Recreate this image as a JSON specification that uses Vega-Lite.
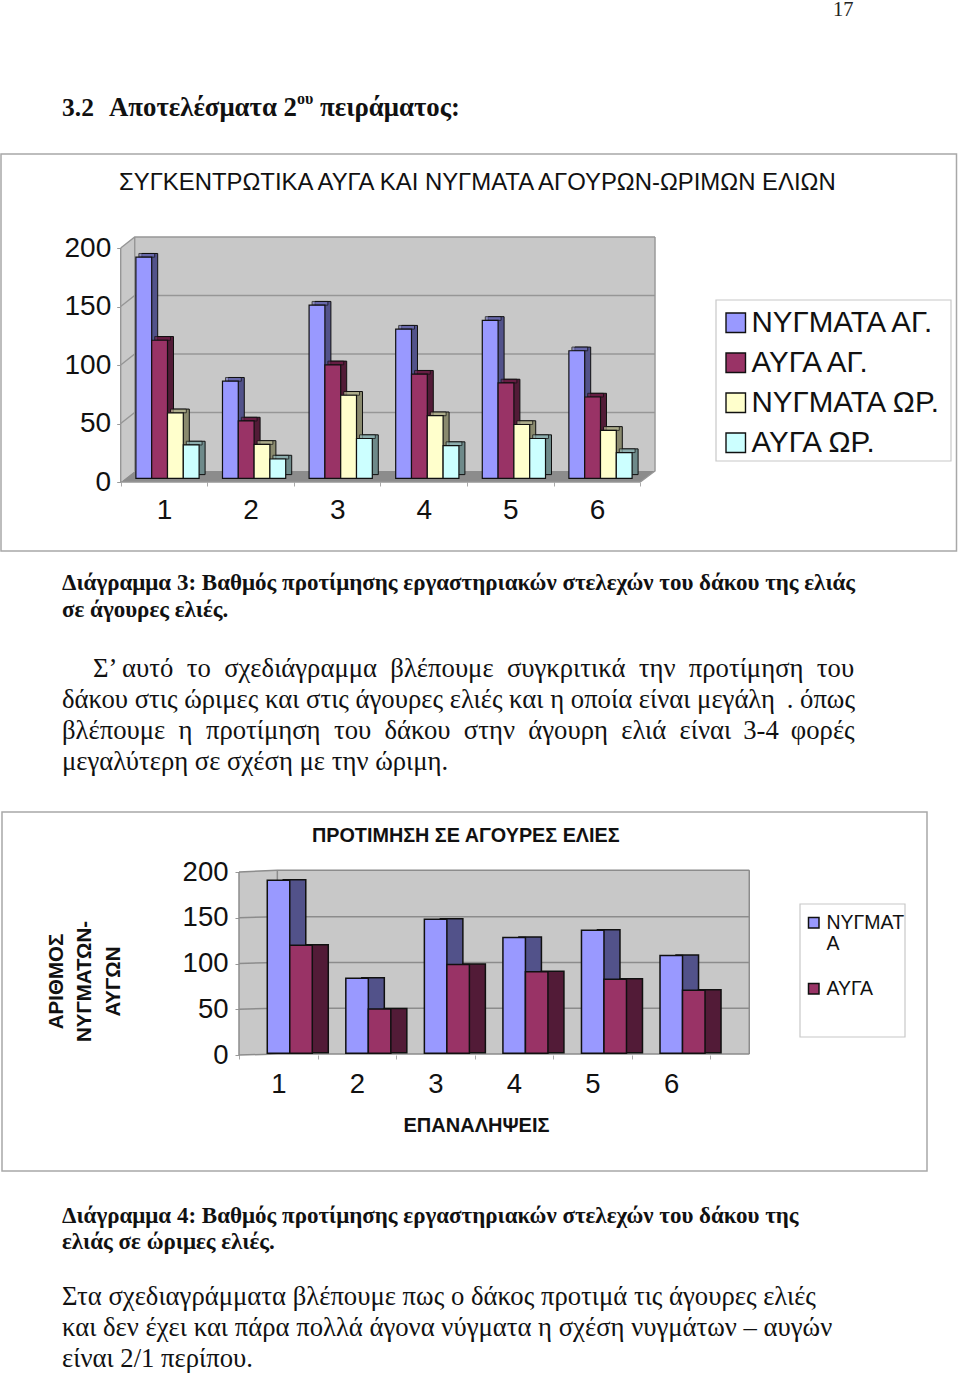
{
"$schema":"https://vega.github.io/schema/vega-lite/v6.json",
"padding":0,"background":"white","spacing":0,"bounds":"flush",
"config":{"view":{"stroke":null}},
"datasets":{
"c1":[
{"group":"1","series":"ΝΥΓΜΑΤΑ ΑΓ.","value":189},{"group":"1","series":"ΑΥΓΑ ΑΓ.","value":118},{"group":"1","series":"ΝΥΓΜΑΤΑ ΩΡ.","value":56},{"group":"1","series":"ΑΥΓΑ ΩΡ.","value":28.5},
{"group":"2","series":"ΝΥΓΜΑΤΑ ΑΓ.","value":83},{"group":"2","series":"ΑΥΓΑ ΑΓ.","value":49},{"group":"2","series":"ΝΥΓΜΑΤΑ ΩΡ.","value":29},{"group":"2","series":"ΑΥΓΑ ΩΡ.","value":16.5},
{"group":"3","series":"ΝΥΓΜΑΤΑ ΑΓ.","value":148},{"group":"3","series":"ΑΥΓΑ ΑΓ.","value":97},{"group":"3","series":"ΝΥΓΜΑΤΑ ΩΡ.","value":71},{"group":"3","series":"ΑΥΓΑ ΩΡ.","value":34},
{"group":"4","series":"ΝΥΓΜΑΤΑ ΑΓ.","value":127.5},{"group":"4","series":"ΑΥΓΑ ΑΓ.","value":89},{"group":"4","series":"ΝΥΓΜΑΤΑ ΩΡ.","value":53.5},{"group":"4","series":"ΑΥΓΑ ΩΡ.","value":28},
{"group":"5","series":"ΝΥΓΜΑΤΑ ΑΓ.","value":135},{"group":"5","series":"ΑΥΓΑ ΑΓ.","value":81.5},{"group":"5","series":"ΝΥΓΜΑΤΑ ΩΡ.","value":46},{"group":"5","series":"ΑΥΓΑ ΩΡ.","value":34},
{"group":"6","series":"ΝΥΓΜΑΤΑ ΑΓ.","value":109},{"group":"6","series":"ΑΥΓΑ ΑΓ.","value":69.5},{"group":"6","series":"ΝΥΓΜΑΤΑ ΩΡ.","value":41},{"group":"6","series":"ΑΥΓΑ ΩΡ.","value":22}],
"c2":[
{"group":"1","series":"ΝΥΓΜΑΤΑ","value":189},{"group":"1","series":"ΑΥΓΑ","value":118},
{"group":"2","series":"ΝΥΓΜΑΤΑ","value":82},{"group":"2","series":"ΑΥΓΑ","value":48.5},
{"group":"3","series":"ΝΥΓΜΑΤΑ","value":146.5},{"group":"3","series":"ΑΥΓΑ","value":97},
{"group":"4","series":"ΝΥΓΜΑΤΑ","value":126.5},{"group":"4","series":"ΑΥΓΑ","value":89},
{"group":"5","series":"ΝΥΓΜΑΤΑ","value":134.5},{"group":"5","series":"ΑΥΓΑ","value":81},
{"group":"6","series":"ΝΥΓΜΑΤΑ","value":107},{"group":"6","series":"ΑΥΓΑ","value":69}]
},
"vconcat":[
{"width":960,"height":153,
"layer":[
{"data":{"values":[{"t":"17"}]},"mark":{"type":"text","font":"Liberation Serif","fontSize":20.5,"align":"left","baseline":"top","color":"#222"},
 "encoding":{"text":{"field":"t"},"x":{"datum":833,"scale":{"domain":[0,960],"range":[0,960]},"axis":null},"y":{"datum":0,"scale":{"domain":[0,153],"range":[0,153]},"axis":null}}},
{"data":{"values":[{"t":"3.2"}]},"mark":{"type":"text","font":"Liberation Serif","fontWeight":"bold","fontSize":25.5,"align":"left","baseline":"alphabetic","color":"#111"},
 "encoding":{"text":{"field":"t"},"x":{"datum":62,"scale":{"domain":[0,960],"range":[0,960]},"axis":null},"y":{"datum":116,"scale":{"domain":[0,153],"range":[0,153]},"axis":null}}},
{"data":{"values":[{"t":"Αποτελέσματα 2"}]},"mark":{"type":"text","font":"Liberation Serif","fontWeight":"bold","fontSize":26.8,"align":"left","baseline":"alphabetic","color":"#111"},
 "encoding":{"text":{"field":"t"},"x":{"datum":109,"scale":{"domain":[0,960],"range":[0,960]},"axis":null},"y":{"datum":116,"scale":{"domain":[0,153],"range":[0,153]},"axis":null}}},
{"data":{"values":[{"t":"ου"}]},"mark":{"type":"text","font":"Liberation Serif","fontWeight":"bold","fontSize":16,"align":"left","baseline":"alphabetic","color":"#111"},
 "encoding":{"text":{"field":"t"},"x":{"datum":297,"scale":{"domain":[0,960],"range":[0,960]},"axis":null},"y":{"datum":104,"scale":{"domain":[0,153],"range":[0,153]},"axis":null}}},
{"data":{"values":[{"t":"πειράματος:"}]},"mark":{"type":"text","font":"Liberation Serif","fontWeight":"bold","fontSize":26.8,"align":"left","baseline":"alphabetic","color":"#111"},
 "encoding":{"text":{"field":"t"},"x":{"datum":320,"scale":{"domain":[0,960],"range":[0,960]},"axis":null},"y":{"datum":116,"scale":{"domain":[0,153],"range":[0,153]},"axis":null}}}
],
"resolve":{"scale":{"x":"independent","y":"independent"}}},

{"width":960,"height":398,
"layer":[
{"data":{"values":[{"lo":0,"hi":200,"u":0},{"lo":9.4,"hi":209.4,"u":0.162},{"lo":9.4,"hi":209.4,"u":6.17}]},
 "mark":{"type":"area","color":"#c8c8c8","orient":"vertical"},
 "encoding":{"x":{"field":"u","type":"quantitative","scale":{"domain":[0,6],"range":[120.7,640.3],"nice":false,"zero":false},"axis":null},
 "y":{"field":"lo","type":"quantitative","scale":{"domain":[0,200],"range":[329,95],"nice":false},
   "axis":{"title":null,"values":[0,50,100,150,200],"offset":-120.7,"domain":false,"grid":false,"tickSize":4,"tickColor":"#999","labelPadding":6,"labelFont":"Liberation Sans","labelFontSize":28,"labelColor":"#111"}},
 "y2":{"field":"hi"}}},
{"data":{"values":[{"lv":0,"l":0,"r":6},{"lv":9.4,"l":0.162,"r":6.17}]},
 "mark":{"type":"area","color":"#8c8c8c","orient":"horizontal"},
 "encoding":{"y":{"field":"lv","type":"quantitative","scale":{"domain":[0,200],"range":[329,95],"nice":false},"axis":null},
 "x":{"field":"l","type":"quantitative","scale":{"domain":[0,6],"range":[120.7,640.3],"nice":false,"zero":false},"axis":null},"x2":{"field":"r"}}},
{"data":{"values":[
 {"k":"g50","u":0,"v":50},{"k":"g50","u":0.162,"v":59.4},{"k":"g50","u":6.17,"v":59.4},
 {"k":"g100","u":0,"v":100},{"k":"g100","u":0.162,"v":109.4},{"k":"g100","u":6.17,"v":109.4},
 {"k":"g150","u":0,"v":150},{"k":"g150","u":0.162,"v":159.4},{"k":"g150","u":6.17,"v":159.4},
 {"k":"g200","u":0,"v":200},{"k":"g200","u":0.162,"v":209.4},{"k":"g200","u":6.17,"v":209.4},
 {"k":"left","u":0,"v":0},{"k":"left","u":0,"v":200},
 {"k":"back","u":0.162,"v":9.4},{"k":"back","u":0.162,"v":209.4},
 {"k":"right","u":6,"v":0},{"k":"right","u":6.17,"v":9.4},{"k":"right","u":6.17,"v":209.4},
 {"k":"front","u":0,"v":0},{"k":"front","u":6,"v":0}]},
 "mark":{"type":"line","color":"#969696","strokeWidth":1.4},
 "encoding":{"detail":{"field":"k"},
 "x":{"field":"u","type":"quantitative","scale":{"domain":[0,6],"range":[120.7,640.3],"nice":false,"zero":false},"axis":null},
 "y":{"field":"v","type":"quantitative","scale":{"domain":[0,200],"range":[329,95],"nice":false},"axis":null}}},
{"data":{"values":[{"group":"1"},{"group":"2"},{"group":"3"},{"group":"4"},{"group":"5"},{"group":"6"}]},
 "mark":{"type":"rule","opacity":0},
 "encoding":{"x":{"field":"group","type":"nominal","scale":{"domain":["1","2","3","4","5","6"],"range":[120.7,640.3]},
   "axis":{"title":null,"labelAngle":0,"offset":-69,"domain":false,"grid":false,"tickSize":4,"tickColor":"#aaa","tickBand":"extent","labelPadding":10,"labelFont":"Liberation Sans","labelFontSize":28,"labelColor":"#111"}}}},
{"data":{"name":"c1"},"mark":{"type":"bar","stroke":"#101010","strokeWidth":1},
 "encoding":{"x":{"field":"group","type":"nominal","scale":{"domain":["1","2","3","4","5","6"],"range":[130.2,649.8],"paddingInner":0.27,"paddingOuter":0.135},"axis":null},
 "xOffset":{"field":"series","type":"nominal","scale":{"domain":["ΝΥΓΜΑΤΑ ΑΓ.","ΑΥΓΑ ΑΓ.","ΝΥΓΜΑΤΑ ΩΡ.","ΑΥΓΑ ΩΡ."]}},
 "y":{"field":"value","type":"quantitative","stack":null,"scale":{"domain":[0,200],"range":[321.6,87.6],"nice":false},"axis":null},
 "color":{"field":"series","type":"nominal","legend":null,"scale":{"domain":["ΝΥΓΜΑΤΑ ΑΓ.","ΑΥΓΑ ΑΓ.","ΝΥΓΜΑΤΑ ΩΡ.","ΑΥΓΑ ΩΡ."],"range":["#52528a","#521b37","#8a8a6e","#6e8a8a"]}}}},
{"data":{"name":"c1"},"mark":{"type":"tick","stroke":"#101010","strokeWidth":1,"size":15.8,"thickness":3.7},
 "encoding":{"x":{"field":"group","type":"nominal","scale":{"domain":["1","2","3","4","5","6"],"range":[127.2,646.8],"paddingInner":0.27,"paddingOuter":0.135},"axis":null},
 "xOffset":{"field":"series","type":"nominal","scale":{"domain":["ΝΥΓΜΑΤΑ ΑΓ.","ΑΥΓΑ ΑΓ.","ΝΥΓΜΑΤΑ ΩΡ.","ΑΥΓΑ ΩΡ."]}},
 "y":{"field":"value","type":"quantitative","stack":null,"scale":{"domain":[0,200],"range":[323.45,89.45],"nice":false},"axis":null},
 "color":{"field":"series","type":"nominal","legend":null,"scale":{"domain":["ΝΥΓΜΑΤΑ ΑΓ.","ΑΥΓΑ ΑΓ.","ΝΥΓΜΑΤΑ ΩΡ.","ΑΥΓΑ ΩΡ."],"range":["#7272ba","#701f49","#bcbc98","#98bcbc"]}}}},
{"data":{"name":"c1"},"mark":{"type":"bar","stroke":"#101010","strokeWidth":1.2},
 "encoding":{"x":{"field":"group","type":"nominal","scale":{"domain":["1","2","3","4","5","6"],"range":[124.2,643.8],"paddingInner":0.27,"paddingOuter":0.135},"axis":null},
 "xOffset":{"field":"series","type":"nominal","scale":{"domain":["ΝΥΓΜΑΤΑ ΑΓ.","ΑΥΓΑ ΑΓ.","ΝΥΓΜΑΤΑ ΩΡ.","ΑΥΓΑ ΩΡ."]}},
 "y":{"field":"value","type":"quantitative","stack":null,"scale":{"domain":[0,200],"range":[325.3,91.3],"nice":false},"axis":null},
 "color":{"field":"series","type":"nominal","scale":{"domain":["ΝΥΓΜΑΤΑ ΑΓ.","ΑΥΓΑ ΑΓ.","ΝΥΓΜΑΤΑ ΩΡ.","ΑΥΓΑ ΩΡ."],"range":["#9999ff","#993366","#ffffcc","#ccffff"]},
   "legend":{"title":null,"orient":"none","legendX":721,"legendY":155,"padding":0,"symbolType":"square","symbolSize":380,"symbolStrokeColor":"#101010","symbolStrokeWidth":1.4,"labelFont":"Liberation Sans","labelFontSize":29.5,"labelColor":"#111","labelOffset":1,"rowPadding":9,"labelLimit":300}}}},
{"data":{"values":[{"t":"ΣΥΓΚΕΝΤΡΩΤΙΚΑ ΑΥΓΑ ΚΑΙ ΝΥΓΜΑΤΑ ΑΓΟΥΡΩΝ-ΩΡΙΜΩΝ ΕΛΙΩΝ"}]},
 "mark":{"type":"text","font":"Liberation Sans","fontSize":23.9,"align":"left","baseline":"middle","color":"#111"},
 "encoding":{"text":{"field":"t"},"x":{"datum":119,"scale":{"domain":[0,960],"range":[0,960]},"axis":null},"y":{"datum":30,"scale":{"domain":[0,398],"range":[0,398]},"axis":null}}},
{"data":{"values":[{"f":"frame"}]},"mark":{"type":"rect","fillOpacity":0,"stroke":"#a8a8a8","strokeWidth":1.5},
 "encoding":{"x":{"datum":1,"scale":{"domain":[0,960],"range":[0,960]},"axis":null},"x2":{"datum":956.5},"y":{"datum":1,"scale":{"domain":[0,398],"range":[0,398]},"axis":null},"y2":{"datum":398}}},
{"data":{"values":[{"f":"legendbox"}]},"mark":{"type":"rect","fillOpacity":0,"stroke":"#c8c8c8","strokeWidth":1.2},
 "encoding":{"x":{"datum":716,"scale":{"domain":[0,960],"range":[0,960]},"axis":null},"x2":{"datum":951},"y":{"datum":147,"scale":{"domain":[0,398],"range":[0,398]},"axis":null},"y2":{"datum":308}}}
],
"resolve":{"scale":{"x":"independent","y":"independent","xOffset":"independent","color":"independent"}}},

{"width":960,"height":260,
"layer":[
{"data":{"values":[{"line":1,"t":"Διάγραμμα 3: Βαθμός προτίμησης εργαστηριακών στελεχών του δάκου της ελιάς"},{"line":2,"t":"σε άγουρες ελιές."}]},
 "mark":{"type":"text","font":"Liberation Serif","fontWeight":"bold","fontSize":23,"align":"left","baseline":"alphabetic","color":"#111"},
 "encoding":{"text":{"field":"t"},"x":{"datum":62,"scale":{"domain":[0,960],"range":[0,960]},"axis":null},"y":{"field":"line","type":"quantitative","scale":{"domain":[1,2],"range":[39,66],"zero":false,"nice":false},"axis":null}}},
{"data":{"values":[{"line":1,"t":"Σ’ αυτό\u00a0 το\u00a0 σχεδιάγραμμα\u00a0 βλέπουμε\u00a0 συγκριτικά\u00a0 την\u00a0 προτίμηση\u00a0 του"}]},
 "mark":{"type":"text","font":"Liberation Serif","fontSize":26.7,"align":"left","baseline":"alphabetic","color":"#111"},
 "encoding":{"text":{"field":"t"},"x":{"datum":93,"scale":{"domain":[0,960],"range":[0,960]},"axis":null},"y":{"field":"line","type":"quantitative","scale":{"domain":[1,4],"range":[126,219],"zero":false,"nice":false},"axis":null}}},
{"data":{"values":[{"line":2,"t":"δάκου στις ώριμες και στις άγουρες ελιές και η οποία είναι μεγάλη"},{"line":3,"t":"βλέπουμε\u00a0 η\u00a0 προτίμηση\u00a0 του\u00a0 δάκου\u00a0 στην\u00a0 άγουρη\u00a0 ελιά\u00a0 είναι\u2009 3-4\u2009 φορές"},{"line":4,"t":"μεγαλύτερη σε σχέση με την ώριμη."}]},
 "mark":{"type":"text","font":"Liberation Serif","fontSize":26.7,"align":"left","baseline":"alphabetic","color":"#111"},
 "encoding":{"text":{"field":"t"},"x":{"datum":62,"scale":{"domain":[0,960],"range":[0,960]},"axis":null},"y":{"field":"line","type":"quantitative","scale":{"domain":[1,4],"range":[126,219],"zero":false,"nice":false},"axis":null}}},
{"data":{"values":[{"line":2,"t":". όπως"}]},
 "mark":{"type":"text","font":"Liberation Serif","fontSize":26.7,"align":"right","baseline":"alphabetic","color":"#111"},
 "encoding":{"text":{"field":"t"},"x":{"datum":855,"scale":{"domain":[0,960],"range":[0,960]},"axis":null},"y":{"field":"line","type":"quantitative","scale":{"domain":[1,4],"range":[126,219],"zero":false,"nice":false},"axis":null}}}
],
"resolve":{"scale":{"x":"independent","y":"independent"}}},

{"width":960,"height":360,
"layer":[
{"data":{"values":[{"lo":0,"hi":200,"u":0},{"lo":1,"hi":202,"u":0.488},{"lo":1,"hi":202,"u":6.496}]},
 "mark":{"type":"area","color":"#c8c8c8","orient":"vertical"},
 "encoding":{"x":{"field":"u","type":"quantitative","scale":{"domain":[0,6],"range":[239,710.3],"nice":false,"zero":false},"axis":null},
 "y":{"field":"lo","type":"quantitative","scale":{"domain":[0,200],"range":[244,61],"nice":false},
   "axis":{"title":["ΑΡΙΘΜΟΣ","ΝΥΓΜΑΤΩΝ-","ΑΥΓΩΝ"],"titleFont":"Liberation Sans","titleFontWeight":"bold","titleFontSize":20.5,"titleColor":"#111","titleAngle":270,"titleAlign":"center","titleBaseline":"alphabetic","titleX":-177,"titleY":170,"titleLineHeight":28.5,"values":[0,50,100,150,200],"offset":-239,"domain":false,"grid":false,"tickSize":4,"tickColor":"#999","labelPadding":7,"labelFont":"Liberation Sans","labelFontSize":27.5,"labelColor":"#111"}},
 "y2":{"field":"hi"}}},
{"data":{"values":[
 {"k":"g50","u":0,"v":50},{"k":"g50","u":0.488,"v":51.2},{"k":"g50","u":6.496,"v":51.2},
 {"k":"g100","u":0,"v":100},{"k":"g100","u":0.488,"v":101.2},{"k":"g100","u":6.496,"v":101.2},
 {"k":"g150","u":0,"v":150},{"k":"g150","u":0.488,"v":151.2},{"k":"g150","u":6.496,"v":151.2},
 {"k":"g200","u":0,"v":200},{"k":"g200","u":0.488,"v":202},{"k":"g200","u":6.496,"v":202},
 {"k":"left","u":0,"v":0},{"k":"left","u":0,"v":200},
 {"k":"back","u":0.488,"v":1},{"k":"back","u":0.488,"v":202},
 {"k":"right","u":6.496,"v":1},{"k":"right","u":6.496,"v":202},
 {"k":"floor","u":0,"v":0},{"k":"floor","u":0.488,"v":1},{"k":"floor","u":6.496,"v":1}]},
 "mark":{"type":"line","color":"#8c8c8c","strokeWidth":1.5},
 "encoding":{"detail":{"field":"k"},
 "x":{"field":"u","type":"quantitative","scale":{"domain":[0,6],"range":[239,710.3],"nice":false,"zero":false},"axis":null},
 "y":{"field":"v","type":"quantitative","scale":{"domain":[0,200],"range":[244,61],"nice":false},"axis":null}}},
{"data":{"values":[{"group":"1"},{"group":"2"},{"group":"3"},{"group":"4"},{"group":"5"},{"group":"6"}]},
 "mark":{"type":"rule","opacity":0},
 "encoding":{"x":{"field":"group","type":"nominal","scale":{"domain":["1","2","3","4","5","6"],"range":[239,710.3]},
   "axis":{"title":"ΕΠΑΝΑΛΗΨΕΙΣ","titleFont":"Liberation Sans","titleFontWeight":"bold","titleFontSize":20,"titleColor":"#111","titleAlign":"center","titleBaseline":"alphabetic","titleX":476,"titleY":76,"labelAngle":0,"offset":-116,"domain":false,"grid":false,"tickSize":4,"tickColor":"#aaa","tickBand":"extent","labelPadding":11,"labelFont":"Liberation Sans","labelFontSize":27.5,"labelColor":"#111"}}}},
{"data":{"name":"c2"},"mark":{"type":"bar","stroke":"#101010","strokeWidth":1.5},
 "encoding":{"x":{"field":"group","type":"nominal","scale":{"domain":["1","2","3","4","5","6"],"range":[266.5,737.8],"paddingInner":0.427,"paddingOuter":0.2135},"axis":null},
 "xOffset":{"field":"series","type":"nominal","scale":{"domain":["ΝΥΓΜΑΤΑ","ΑΥΓΑ"]}},
 "y":{"field":"value","type":"quantitative","stack":null,"scale":{"domain":[0,200],"range":[241.8,58.8],"nice":false},"axis":null},
 "color":{"field":"series","type":"nominal","legend":null,"scale":{"domain":["ΝΥΓΜΑΤΑ","ΑΥΓΑ"],"range":["#52528a","#521b37"]}}}},
{"data":{"name":"c2"},"mark":{"type":"bar","stroke":"#101010","strokeWidth":1.5},
 "encoding":{"x":{"field":"group","type":"nominal","scale":{"domain":["1","2","3","4","5","6"],"range":[250.5,721.8],"paddingInner":0.427,"paddingOuter":0.2135},"axis":null},
 "xOffset":{"field":"series","type":"nominal","scale":{"domain":["ΝΥΓΜΑΤΑ","ΑΥΓΑ"]}},
 "y":{"field":"value","type":"quantitative","stack":null,"scale":{"domain":[0,200],"range":[242.3,59.3],"nice":false},"axis":null},
 "color":{"field":"series","type":"nominal","scale":{"domain":["ΝΥΓΜΑΤΑ","ΑΥΓΑ"],"range":["#9999ff","#993366"]},
   "legend":{"title":null,"orient":"none","legendX":804,"legendY":102,"padding":0,"symbolType":"square","symbolSize":110,"symbolStrokeColor":"#101010","symbolStrokeWidth":1.5,"labelFont":"Liberation Sans","labelFontSize":19.5,"labelColor":"#111","labelOffset":3,"rowPadding":24,"labelLimit":200,"labelExpr":"datum.label == 'ΝΥΓΜΑΤΑ' ? ['ΝΥΓΜΑΤ','Α'] : datum.label"}}}},
{"data":{"values":[{"t":"ΠΡΟΤΙΜΗΣΗ ΣΕ ΑΓΟΥΡΕΣ ΕΛΙΕΣ"}]},
 "mark":{"type":"text","font":"Liberation Sans","fontWeight":"bold","fontSize":19.8,"align":"left","baseline":"middle","color":"#111"},
 "encoding":{"text":{"field":"t"},"x":{"datum":312,"scale":{"domain":[0,960],"range":[0,960]},"axis":null},"y":{"datum":25,"scale":{"domain":[0,360],"range":[0,360]},"axis":null}}},
{"data":{"values":[{"f":"frame"}]},"mark":{"type":"rect","fillOpacity":0,"stroke":"#a8a8a8","strokeWidth":1.5},
 "encoding":{"x":{"datum":2,"scale":{"domain":[0,960],"range":[0,960]},"axis":null},"x2":{"datum":927},"y":{"datum":1,"scale":{"domain":[0,360],"range":[0,360]},"axis":null},"y2":{"datum":360}}},
{"data":{"values":[{"f":"legendbox"}]},"mark":{"type":"rect","fillOpacity":0,"stroke":"#c8c8c8","strokeWidth":1.2},
 "encoding":{"x":{"datum":800,"scale":{"domain":[0,960],"range":[0,960]},"axis":null},"x2":{"datum":905},"y":{"datum":93,"scale":{"domain":[0,360],"range":[0,360]},"axis":null},"y2":{"datum":226}}}
],
"resolve":{"scale":{"x":"independent","y":"independent","xOffset":"independent","color":"independent"}}},

{"width":960,"height":203,
"layer":[
{"data":{"values":[{"line":1,"t":"Διάγραμμα 4: Βαθμός προτίμησης  εργαστηριακών στελεχών του δάκου της"},{"line":2,"t":"ελιάς σε ώριμες ελιές."}]},
 "mark":{"type":"text","font":"Liberation Serif","fontWeight":"bold","fontSize":23,"align":"left","baseline":"alphabetic","color":"#111"},
 "encoding":{"text":{"field":"t"},"x":{"datum":62,"scale":{"domain":[0,960],"range":[0,960]},"axis":null},"y":{"field":"line","type":"quantitative","scale":{"domain":[1,2],"range":[52,78],"zero":false,"nice":false},"axis":null}}},
{"data":{"values":[{"line":1,"t":"Στα σχεδιαγράμματα βλέπουμε πως ο δάκος προτιμά τις άγουρες ελιές"},{"line":2,"t":"και δεν έχει και πάρα πολλά άγονα νύγματα η σχέση νυγμάτων – αυγών"},{"line":3,"t":"είναι 2/1 περίπου."}]},
 "mark":{"type":"text","font":"Liberation Serif","fontSize":26.7,"align":"left","baseline":"alphabetic","color":"#111"},
 "encoding":{"text":{"field":"t"},"x":{"datum":62,"scale":{"domain":[0,960],"range":[0,960]},"axis":null},"y":{"field":"line","type":"quantitative","scale":{"domain":[1,3],"range":[134,196],"zero":false,"nice":false},"axis":null}}}
],
"resolve":{"scale":{"x":"independent","y":"independent"}}}
]}
